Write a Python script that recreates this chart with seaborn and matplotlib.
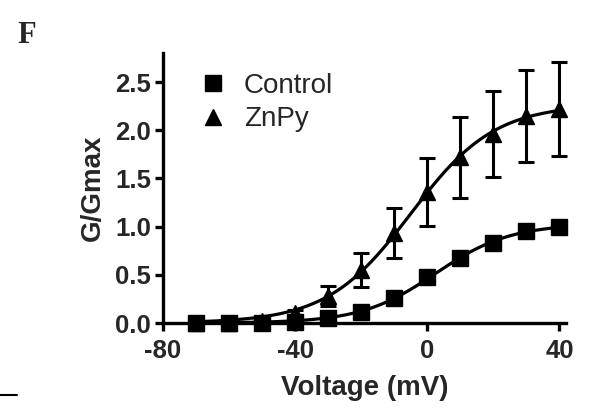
import numpy as np
import pandas as pd
import seaborn as sns
import matplotlib.pyplot as plt
from matplotlib.lines import Line2D

# data
voltage = [-70, -60, -50, -40, -30, -20, -10, 0, 10, 20, 30, 40]
control = [0.0, 0.0, 0.0, 0.01, 0.05, 0.11, 0.26, 0.48, 0.67, 0.83, 0.95, 1.00]
znpy = [0.0, 0.0, 0.02, 0.10, 0.28, 0.55, 0.93, 1.36, 1.72, 1.96, 2.15, 2.22]
znpy_err = [0.0, 0.0, 0.01, 0.03, 0.10, 0.18, 0.26, 0.35, 0.42, 0.45, 0.48, 0.49]


# Boltzmann fit (grid search on V1/2 and k, Gmax by least squares)
def fit_boltzmann(v, g):
    v = np.asarray(v, float)
    g = np.asarray(g, float)
    best = None
    for vh in np.arange(-30, 20, 0.25):
        for k in np.arange(4, 25, 0.1):
            s = 1.0 / (1.0 + np.exp((vh - v) / k))
            gmax = (s @ g) / (s @ s)
            err = np.sum((gmax * s - g) ** 2)
            if best is None or err < best[0]:
                best = (err, gmax, vh, k)
    return best[1:]


v_fine = np.linspace(-70, 40, 300)
curves = []
for name, vals in [("Control", control), ("ZnPy", znpy)]:
    gmax, vh, k = fit_boltzmann(voltage, vals)
    curves.append(pd.DataFrame({"V": v_fine,
                                "G": gmax / (1 + np.exp((vh - v_fine) / k)),
                                "group": name}))
fit_df = pd.concat(curves)

sns.set_style("ticks")
plt.rcParams['font.family'] = ['Liberation Sans', 'DejaVu Sans']
plt.rcParams['axes.unicode_minus'] = False

fig = plt.figure(figsize=(5.96, 4.12), dpi=100)
ax = fig.add_axes([0.2735, 0.216, 0.6762, 0.655])

sns.lineplot(data=fit_df, x="V", y="G", units="group", estimator=None,
             color="black", lw=2.3, ax=ax, clip_on=False)

ax.errorbar(voltage, znpy, yerr=znpy_err, fmt="none", ecolor="black",
            elinewidth=2.2, capsize=6, capthick=2.2, clip_on=False, zorder=3)
ax.plot(voltage, control, "s", color="black", ms=11, clip_on=False, zorder=4)
ax.plot(voltage, znpy, "^", color="black", ms=12, clip_on=False, zorder=4)

ax.set_xlim(-80, 42)
ax.set_ylim(0, 2.8)
ax.set_xticks([-80, -40, 0, 40])
ax.set_yticks([0.0, 0.5, 1.0, 1.5, 2.0, 2.5])
ax.set_yticklabels(["0.0", "0.5", "1.0", "1.5", "2.0", "2.5"])
sns.despine(ax=ax)
for sp in ["left", "bottom"]:
    ax.spines[sp].set_linewidth(2.4)
    ax.spines[sp].set_color("black")
ax.tick_params(width=2.4, length=5.5, color="black", labelsize=18.5, pad=3)
ax.tick_params(axis="x", pad=6)
for lab in ax.get_xticklabels() + ax.get_yticklabels():
    lab.set_fontweight("bold")

ax.set_xlabel("Voltage (mV)", fontsize=20, fontweight="bold", labelpad=9)
ax.set_ylabel("G/Gmax", fontsize=20, fontweight="bold", labelpad=7)

handles = [Line2D([], [], marker="s", ls="", color="black", ms=12, label="Control"),
           Line2D([], [], marker="^", ls="", color="black", ms=12, label="ZnPy")]
ax.legend(handles=handles, loc="upper left", bbox_to_anchor=(0.035, 1.0),
          frameon=False, fontsize=20, handletextpad=0.5, labelspacing=0.28,
          handlelength=1.2, borderaxespad=0.3)

fig.text(0.03, 0.895, "F", family="Liberation Serif", fontweight="bold",
         fontsize=22)
fig.add_artist(Line2D([0.0, 0.028], [0.042, 0.042], color="black", lw=1.5))

fig.savefig("out.png", dpi=100)
